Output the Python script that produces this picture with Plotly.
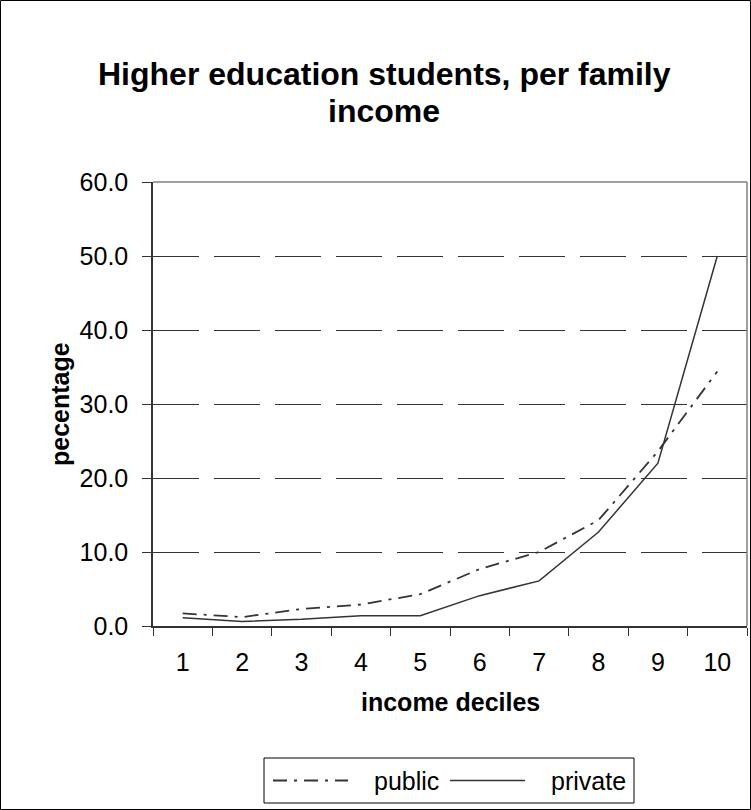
import plotly.graph_objects as go

deciles = ["1", "2", "3", "4", "5", "6", "7", "8", "9", "10"]
public = [1.7, 1.2, 2.3, 2.9, 4.3, 7.7, 10.0, 14.3, 23.6, 34.4]
private = [1.1, 0.6, 0.9, 1.4, 1.4, 4.1, 6.1, 12.7, 22.0, 50.0]
series_names = ["public", "private"]
y_ticks = [0, 10, 20, 30, 40, 50, 60]

W, H = 751, 810
L, R, T, B = 153, 747, 182, 626
pw, ph = R - L, B - T


def px_x(x):
    return (x - L) / pw


def px_y(y):
    return (B - y) / ph


FONT = "Liberation Sans, Arial, sans-serif"
LINE_COLOR = "#333333"
PUBLIC_DASH = "14px,7px,3px,7px"

fig = go.Figure()
fig.add_trace(go.Scatter(x=deciles, y=public, mode="lines", name=series_names[0],
                         line=dict(color=LINE_COLOR, width=1.8, dash=PUBLIC_DASH),
                         showlegend=False))
fig.add_trace(go.Scatter(x=deciles, y=private, mode="lines", name=series_names[1],
                         line=dict(color=LINE_COLOR, width=1.5), showlegend=False))

fig.update_layout(
    width=W, height=H,
    margin=dict(l=L, r=W - R, t=T, b=H - B),
    paper_bgcolor="white", plot_bgcolor="white",
    font=dict(family=FONT, size=25, color="black"),
    showlegend=False,
)

fig.update_xaxes(type="category", range=[-0.5, 9.5], tickson="boundaries", ticks="outside",
                 ticklen=8, tickcolor=LINE_COLOR, tickwidth=1.3, showline=True,
                 linecolor=LINE_COLOR, linewidth=1.5, showgrid=False, zeroline=False,
                 ticklabelstandoff=13, tickfont=dict(size=25))
fig.update_yaxes(range=[0, 60], tickvals=y_ticks, tickformat=".1f", ticks="outside",
                 ticklen=9, tickcolor=LINE_COLOR, tickwidth=1.3, showline=True,
                 linecolor=LINE_COLOR, linewidth=1.5, showgrid=True, gridcolor=LINE_COLOR,
                 gridwidth=1.2, griddash="46px,15px", zeroline=False,
                 ticklabelstandoff=9, tickfont=dict(size=25))

# gray plot-area border (top and right)
fig.add_shape(type="line", xref="paper", yref="paper", x0=0, x1=1, y0=1, y1=1,
              line=dict(color="#808080", width=1.5))
fig.add_shape(type="line", xref="paper", yref="paper", x0=1, x1=1, y0=0, y1=1,
              line=dict(color="#808080", width=1.5))
# outer chart border
fig.add_shape(type="rect", xref="paper", yref="paper",
              x0=px_x(0.5), x1=px_x(W - 0.5), y0=px_y(H - 0.5), y1=px_y(0.5),
              line=dict(color="black", width=1))

# legend box (drawn manually to match the long line samples)
LEG_L, LEG_R, LEG_T, LEG_B = 264, 634, 758, 803
leg_mid = (LEG_T + LEG_B) / 2
fig.add_shape(type="rect", xref="paper", yref="paper",
              x0=px_x(LEG_L), x1=px_x(LEG_R), y0=px_y(LEG_B), y1=px_y(LEG_T),
              line=dict(color="black", width=1), fillcolor="white")
leg_items = [(273, 348, 372, dict(color=LINE_COLOR, width=1.8, dash=PUBLIC_DASH)),
             (450, 525, 549, dict(color=LINE_COLOR, width=1.5))]
for name, (sx0, sx1, tx, style) in zip(series_names, leg_items):
    fig.add_shape(type="line", xref="paper", yref="paper", x0=px_x(sx0), x1=px_x(sx1),
                  y0=px_y(leg_mid), y1=px_y(leg_mid), line=style)
    fig.add_annotation(text=name, xref="paper", yref="paper", x=px_x(tx), y=px_y(leg_mid),
                       xanchor="left", yanchor="middle", showarrow=False,
                       font=dict(size=25, family=FONT))

fig.add_annotation(text="<b>Higher education students, per family</b>",
                   xref="paper", yref="paper", x=px_x(384), y=px_y(74),
                   xanchor="center", yanchor="middle",
                   showarrow=False, font=dict(size=32, family=FONT))
fig.add_annotation(text="<b>income</b>",
                   xref="paper", yref="paper", x=px_x(384), y=px_y(111),
                   xanchor="center", yanchor="middle",
                   showarrow=False, font=dict(size=32, family=FONT))
fig.add_annotation(text="<b>pecentage</b>", xref="paper", yref="paper",
                   x=px_x(60), y=px_y(404), xanchor="center", yanchor="middle",
                   textangle=-90, showarrow=False, font=dict(size=25, family=FONT))
fig.add_annotation(text="<b>income deciles</b>", xref="paper", yref="paper",
                   x=0.5, y=px_y(702), xanchor="center", yanchor="middle",
                   showarrow=False, font=dict(size=25, family=FONT))

fig.write_html("out.html")
